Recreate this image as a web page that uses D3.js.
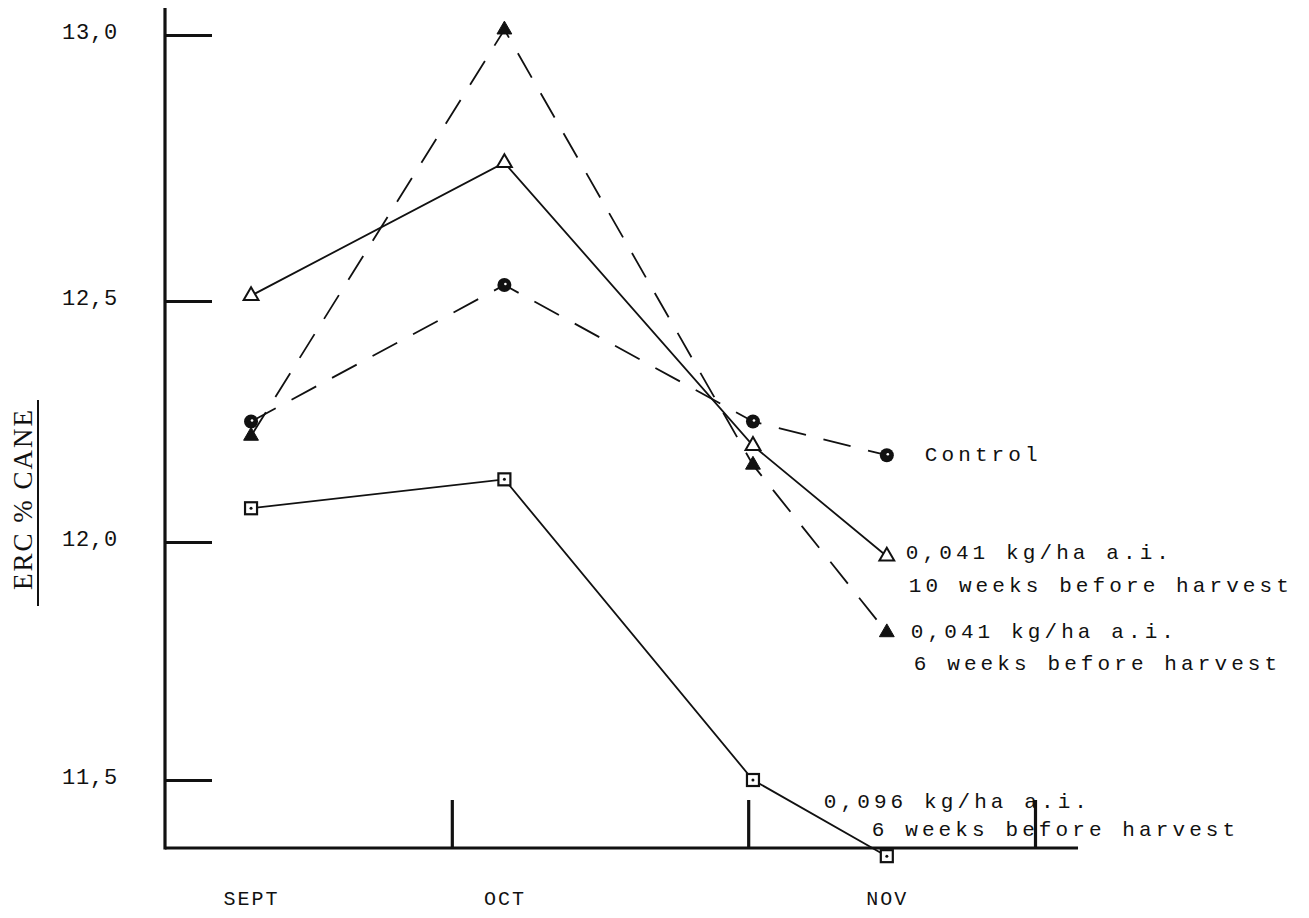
<!DOCTYPE html>
<html>
<head>
<meta charset="utf-8">
<script src="https://cdn.jsdelivr.net/npm/d3@7/dist/d3.min.js"></script>
<style>
  html, body { margin: 0; padding: 0; background: #fff; }
  svg { display: block; }
</style>
</head>
<body>
<svg id="chart" width="1309" height="918"></svg>
<script>
// ---- data ----
// sampling days, counted from 1 September
const sampleDays = [9, 35.5, 61.5, 75.5];
const monthTickDays = [30, 61, 91];        // month boundaries (1 Oct, 1 Nov, 1 Dec)
const monthLabels = ["SEPT", "OCT", "NOV"];
const monthLabelDays = [9, 35.5, 75.5];
const yTickValues = [11.5, 12.0, 12.5, 13.0];

const control      = [12.25, 12.53, 12.25, 12.18];
const tenWeeks041  = [12.51, 12.76, 12.20, 11.97];
const sixWeeks041  = [12.22, 13.01, 12.16, 11.81];
const sixWeeks096  = [12.07, 12.13, 11.50, 11.34];

const labelLines = [
  ["Control"],
  ["0,041 kg/ha a.i.", "10 weeks before harvest"],
  ["0,041 kg/ha a.i.", "6 weeks before harvest"],
  ["0,096 kg/ha a.i.", "6 weeks before harvest"]
];
const yTitle = "ERC % CANE";

// ---- layout ----
const svg = d3.select("#chart");
const ink = "#111";
const axisX0 = 165, axisY0 = 848;

const x = d3.scaleLinear().domain([0, 91]).range([165, 1035]);
// hand-drawn axis: tick spacing not perfectly even
const y = d3.scaleLinear().domain(yTickValues).range([780, 542, 301, 35]);

svg.append("rect").attr("width", 1309).attr("height", 918).attr("fill", "#fff");

// y axis
const yAxis = svg.append("g").attr("transform", `translate(${axisX0},0)`)
  .call(d3.axisLeft(y).tickValues(yTickValues).tickSize(-47).tickPadding(47)
        .tickFormat(d => d.toFixed(1).replace(".", ",")));
yAxis.select(".domain").remove();
yAxis.selectAll(".tick line").attr("stroke", ink).attr("stroke-width", 3.2);
yAxis.selectAll(".tick text")
  .attr("font-family", "'Liberation Mono', monospace")
  .attr("font-size", 22).attr("letter-spacing", 0.8).attr("fill", ink).attr("dy", "0.15em");

svg.append("line").attr("x1", axisX0).attr("x2", axisX0).attr("y1", 8).attr("y2", axisY0 + 1.5)
  .attr("stroke", ink).attr("stroke-width", 3.2);

// x axis
const xAxis = svg.append("g").attr("transform", `translate(0,${axisY0})`)
  .call(d3.axisBottom(x).tickValues(monthTickDays).tickSize(-48).tickFormat(""));
xAxis.select(".domain").remove();
xAxis.selectAll(".tick line").attr("stroke", ink).attr("stroke-width", 3.2);
svg.append("line").attr("x1", axisX0).attr("x2", x(95.5)).attr("y1", axisY0).attr("y2", axisY0)
  .attr("stroke", ink).attr("stroke-width", 3.2);

const xLab = svg.append("g").attr("transform", `translate(0,${axisY0})`)
  .call(d3.axisBottom(x).tickValues(monthLabelDays).tickSize(0).tickPadding(43)
        .tickFormat((d, i) => monthLabels[i]));
xLab.select(".domain").remove();
xLab.selectAll(".tick text")
  .attr("font-family", "'Liberation Mono', monospace")
  .attr("font-size", 20).attr("letter-spacing", 2).attr("fill", ink);

// y title
svg.append("text")
  .attr("transform", "translate(32,499) rotate(-90)")
  .attr("text-anchor", "middle")
  .attr("font-family", "'Liberation Serif', serif")
  .attr("font-size", 27).attr("letter-spacing", 2)
  .attr("fill", ink)
  .text(yTitle);
svg.append("line").attr("x1", 38).attr("x2", 38).attr("y1", 400).attr("y2", 606)
  .attr("stroke", ink).attr("stroke-width", 2);

// ---- series ----
const allSeries = [control, tenWeeks041, sixWeeks041, sixWeeks096];
const dashes = ["28,18", null, "28,18", null];
const line = d3.line().x((d, i) => x(sampleDays[i])).y(d => y(d));

allSeries.forEach((vals, s) => {
  svg.append("path").datum(vals)
    .attr("d", line)
    .attr("fill", "none").attr("stroke", ink).attr("stroke-width", 1.8)
    .attr("stroke-dasharray", dashes[s]);
});

// markers
const tri = d3.symbol().type(d3.symbolTriangle).size(95);
function drawMarkers(vals, s) {
  const g = svg.append("g");
  vals.forEach((v, i) => {
    const cx = x(sampleDays[i]), cy = y(v);
    if (s === 0) {
      g.append("circle").attr("cx", cx).attr("cy", cy).attr("r", 7).attr("fill", ink);
      g.append("circle").attr("cx", cx + 1).attr("cy", cy - 1).attr("r", 1.3).attr("fill", "#fff");
    } else if (s === 1) {
      g.append("path").attr("d", tri).attr("transform", `translate(${cx},${cy})`)
        .attr("fill", "#fff").attr("stroke", ink).attr("stroke-width", 2);
    } else if (s === 2) {
      g.append("path").attr("d", tri).attr("transform", `translate(${cx},${cy})`)
        .attr("fill", ink).attr("stroke", ink).attr("stroke-width", 1);
    } else {
      g.append("rect").attr("x", cx - 6).attr("y", cy - 6).attr("width", 12).attr("height", 12)
        .attr("fill", "#fff").attr("stroke", ink).attr("stroke-width", 2.2);
      g.append("circle").attr("cx", cx).attr("cy", cy).attr("r", 1.5).attr("fill", ink);
    }
  });
}
allSeries.forEach(drawMarkers);

// direct labels (offsets from each series' last point)
const labelOffsets = [
  [[38, 0]],
  [[19, -3], [22, 30]],
  [[24, 0], [27, 32]],
  [[-63, -54], [-15, -26]]
];
allSeries.forEach((vals, s) => {
  const lx = x(sampleDays[sampleDays.length - 1]);
  const ly = y(vals[vals.length - 1]);
  labelLines[s].forEach((t, k) => {
    svg.append("text")
      .attr("x", lx + labelOffsets[s][k][0])
      .attr("y", ly + labelOffsets[s][k][1])
      .attr("dominant-baseline", "central")
      .attr("font-family", "'Liberation Mono', monospace")
      .attr("font-size", 21).attr("letter-spacing", 4.1)
      .attr("fill", ink)
      .text(t);
  });
});
</script>
</body>
</html>
